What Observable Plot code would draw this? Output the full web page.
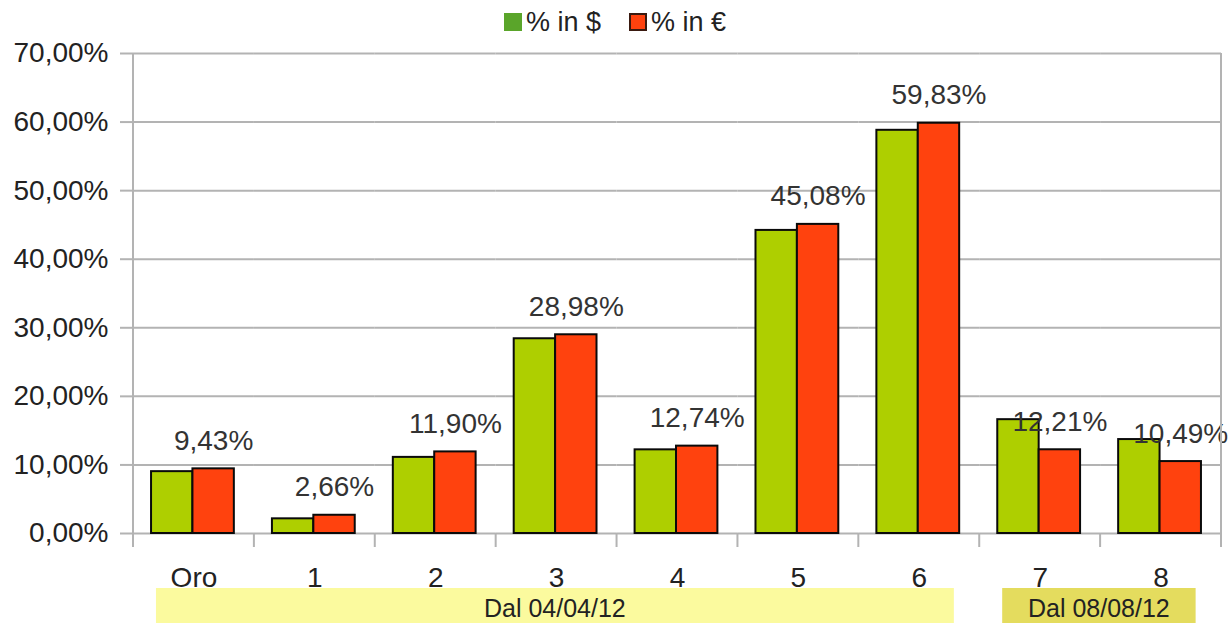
<!DOCTYPE html>
<html><head><meta charset="utf-8">
<script src="https://cdn.jsdelivr.net/npm/d3@7"></script>
<script src="https://cdn.jsdelivr.net/npm/@observablehq/plot@0.6"></script>
<style>
body{margin:0;background:#fff;width:1230px;height:623px;overflow:hidden;font-family:"Liberation Sans",Arial,sans-serif;}
#legend{position:absolute;left:0;top:0;width:1230px;height:45px;display:flex;justify-content:center;gap:28px;}
.item{margin-top:7px;font-size:27px;color:#222;display:flex;align-items:center;height:30px;}
.sw{width:18px;height:18px;margin-right:4px;box-sizing:border-box;}
#chart{position:absolute;left:0;top:45px;}
</style></head><body>
<div id="legend"></div><div id="chart"></div>
<script>
const categories = ["Oro","1","2","3","4","5","6","7","8"];
const series = ["% in $","% in €"];
const valuesUSD = [9.02, 2.14, 11.10, 28.40, 12.20, 44.20, 58.80, 16.60, 13.70];
const valuesEUR = [9.43, 2.66, 11.90, 28.98, 12.74, 45.08, 59.83, 12.21, 10.49];
const yTicks = [0,10,20,30,40,50,60,70];
const groupLabels = ["Dal 04/04/12","Dal 08/08/12"];
const groupFrom = ["Oro","7"];
const groupTo = ["6","8"];
const barColors = ["#aecf00","#ff420e"];
const legendColors = ["#5aa52a","#ff420e"];
const groupColors = ["#fbfa9e","#e4dc5e"];

const fmt = v => v.toFixed(2).replace(".", ",") + "%";
const data = categories.flatMap((c,i)=>[{cat:c,s:series[0],v:valuesUSD[i]},{cat:c,s:series[1],v:valuesEUR[i]}]);

// legend
const lg = document.getElementById("legend");
series.forEach((s,i)=>{
  const it = document.createElement("div"); it.className="item";
  const sw = document.createElement("div"); sw.className="sw"; sw.style.background=legendColors[i];
  if(i===1) sw.style.border="2px solid #3a1a10";
  it.appendChild(sw); it.appendChild(document.createTextNode(s)); lg.appendChild(it);
});

const plot = Plot.plot({
  width:1230, height:578, marginLeft:133, marginRight:9, marginTop:8, marginBottom:90,
  style:{fontFamily:"'Liberation Sans', Arial, sans-serif", fontSize:"28px", color:"#222", background:"white", overflow:"visible"},
  fx:{domain:categories, padding:0, round:false, axis:"bottom", label:null, tickSize:0, tickPadding:34},
  x:{domain:series, paddingInner:0, paddingOuter:0.46, round:false, axis:null},
  y:{domain:[0,70], label:null, axis:null},
  color:{domain:series, range:barColors},
  marks:[
    Plot.gridY(yTicks, {stroke:"#b3b3b3", strokeOpacity:1, strokeWidth:2}),
    Plot.axisY(yTicks, {tickFormat:fmt, tickSize:13, tickPadding:12, label:null}),
    Plot.barY(data, {fx:"cat", x:"s", y:"v", fill:"s", stroke:"#0a0a0a", strokeWidth:2, dx:-1}),
    Plot.text(data.filter(d=>d.s===series[1]), {fx:"cat", x:"s", y:"v", text:d=>fmt(d.v), dy:-19, dx:-1, lineAnchor:"bottom", fill:"#333"})
  ]
});
document.getElementById("chart").appendChild(plot);

const svg = d3.select(plot);
svg.selectAll('[aria-label="y-axis tick"] path, [aria-label="y-axis tick"]').attr("stroke","#b3b3b3").attr("stroke-width",2);

const fxs = plot.scale("fx");
const ys = plot.scale("y");
const bw = fxs.bandwidth;
const fx = c => fxs.apply(c);
const y0 = ys.apply(0), yTop = ys.apply(70);
const n = categories.length;
const g = svg.append("g");
for(let i=0;i<=n;i++){
  const xb = i<n ? fx(categories[i]) : fx(categories[n-1])+bw;
  g.append("line").attr("x1",xb).attr("x2",xb)
   .attr("y1",(i===0||i===n)?yTop:y0).attr("y2",y0+14)
   .attr("stroke","#b3b3b3").attr("stroke-width",2);
}
groupLabels.forEach((lab,i)=>{
  const x1 = fx(groupFrom[i]) + 0.19*bw, x2 = fx(groupTo[i]) + 0.79*bw;
  g.append("rect").attr("x",x1).attr("y",y0+55).attr("width",x2-x1).attr("height",40).attr("fill",groupColors[i]);
  g.append("text").attr("x",(x1+x2)/2).attr("y",y0+84).attr("text-anchor","middle")
   .attr("font-size",25).attr("fill","#222").text(lab);
});
</script>
</body></html>
